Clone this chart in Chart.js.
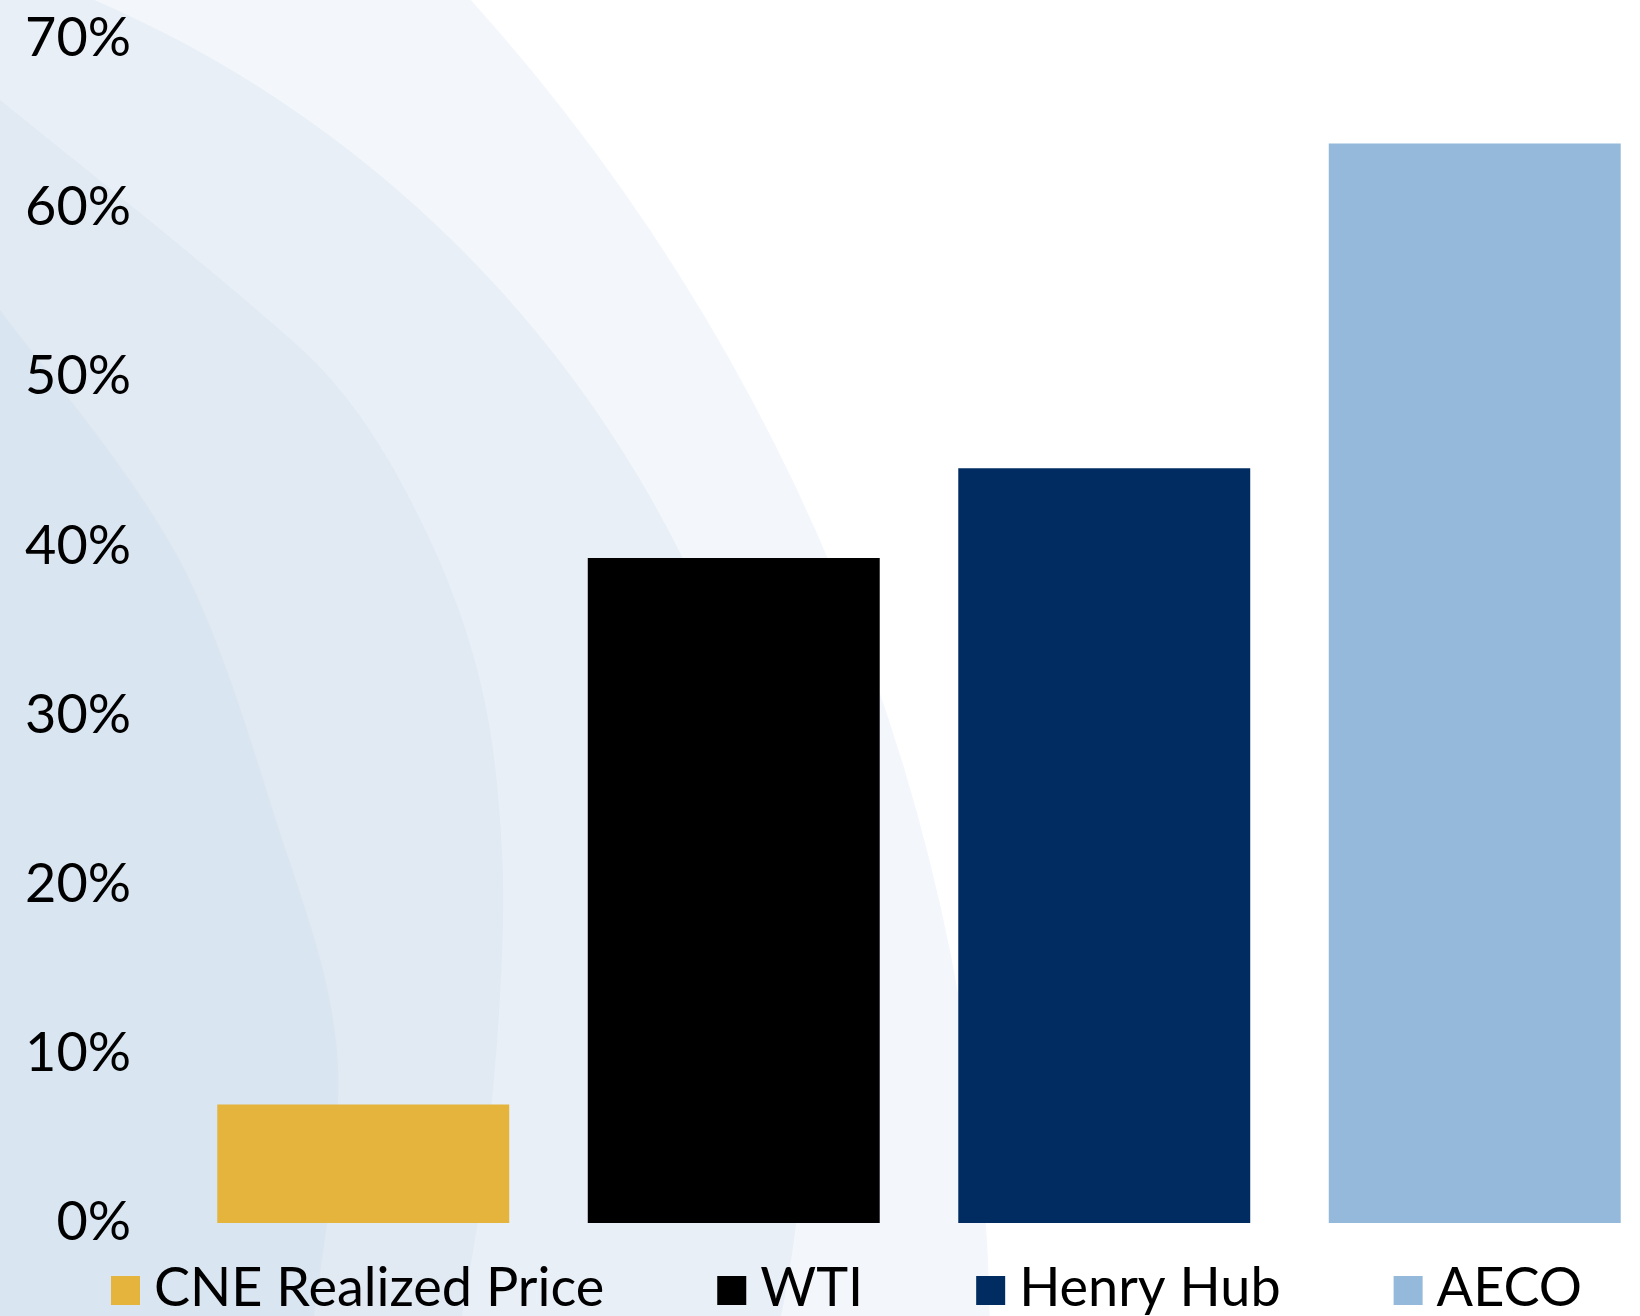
<!DOCTYPE html>
<html>
<head>
<meta charset="utf-8">
<script src="https://cdn.jsdelivr.net/npm/chart.js@4.4.1/dist/chart.umd.min.js"></script>
<style>
  html, body { margin: 0; padding: 0; overflow: hidden; background: #ffffff; }
  #wrap { position: absolute; left: 0; top: 0; width: 1660px; height: 1316px; }
</style>
</head>
<body>
<div id="wrap"><canvas id="chart" width="1660" height="1316"></canvas></div>
<script>
// Year-over-year price change by benchmark (%)
const categories = ['CNE Realized Price', 'WTI', 'Henry Hub', 'AECO'];
const changePct = [7.0, 39.3, 44.6, 63.8];
const barColors = ['#e4b43c', '#000000', '#002c62', '#94b9da'];
const yTickValues = [0, 10, 20, 30, 40, 50, 60, 70];

// Smooth curve through a list of points (Catmull-Rom converted to Bezier)
function curveThrough(ctx, pts) {
  ctx.lineTo(pts[0][0], pts[0][1]);
  for (let i = 0; i < pts.length - 1; i++) {
    const p0 = pts[i - 1] || pts[i];
    const p1 = pts[i];
    const p2 = pts[i + 1];
    const p3 = pts[i + 2] || p2;
    ctx.bezierCurveTo(
      p1[0] + (p2[0] - p0[0]) / 6, p1[1] + (p2[1] - p0[1]) / 6,
      p2[0] - (p3[0] - p1[0]) / 6, p2[1] - (p3[1] - p1[1]) / 6,
      p2[0], p2[1]
    );
  }
}

// Soft decorative swoosh bands behind the plot
const backdrop = {
  id: 'backdrop',
  beforeDraw(chart) {
    const ctx = chart.ctx;
    const w = chart.width, h = chart.height;
    ctx.save();
    ctx.fillStyle = '#ffffff';
    ctx.fillRect(0, 0, w, h);

    ctx.fillStyle = '#f3f7fb';
    ctx.beginPath();
    ctx.arc(-1025, 1350, 2015, 0, Math.PI * 2);
    ctx.fill();

    ctx.fillStyle = '#e9eff7';
    ctx.beginPath();
    ctx.arc(-371, 1080, 1176, 0, Math.PI * 2);
    ctx.fill();

    ctx.fillStyle = '#e1e9f3';
    ctx.beginPath();
    ctx.moveTo(0, 100);
    curveThrough(ctx, [[0, 100], [237, 293], [348, 400], [430, 540], [482, 689], [502, 851], [499, 1013], [482, 1190], [462, 1316]]);
    ctx.lineTo(0, h);
    ctx.closePath();
    ctx.fill();

    ctx.fillStyle = '#d9e5f0';
    ctx.beginPath();
    ctx.moveTo(0, 310);
    curveThrough(ctx, [[0, 310], [179, 559], [286, 851], [332, 1013], [336, 1142], [314, 1316]]);
    ctx.lineTo(0, h);
    ctx.closePath();
    ctx.fill();
    ctx.restore();
  }
};

// Legend row drawn under the plot: colour square followed by label
const legendRow = {
  id: 'legendRow',
  afterDraw(chart, args, opts) {
    const ctx = chart.ctx;
    const labels = chart.data.labels;
    const colors = chart.data.datasets[0].backgroundColor;
    ctx.save();
    ctx.font = opts.font;
    ctx.textBaseline = 'alphabetic';
    ctx.textAlign = 'left';
    let x = opts.left;
    labels.forEach((name, i) => {
      ctx.fillStyle = colors[i];
      ctx.fillRect(x, opts.boxTop, opts.box, opts.box);
      ctx.fillStyle = opts.color;
      const tx = x + opts.box + opts.gap;
      ctx.fillText(name, tx, opts.baseline);
      x = tx + ctx.measureText(name).width + opts.spacing;
    });
    ctx.restore();
  }
};

new Chart(document.getElementById('chart'), {
  type: 'bar',
  data: {
    labels: categories,
    datasets: [{
      data: changePct,
      backgroundColor: barColors,
      borderWidth: 0,
      categoryPercentage: 1,
      barPercentage: 0.788
    }]
  },
  options: {
    responsive: false,
    animation: false,
    layout: { padding: { left: 0, right: 0, top: 38.5, bottom: 93 } },
    plugins: {
      legend: { display: false },
      tooltip: { enabled: false },
      legendRow: {
        font: '54px Lato',
        color: '#000000',
        left: 111,
        box: 29,
        boxTop: 1276,
        gap: 14,
        baseline: 1306,
        spacing: 113
      }
    },
    scales: {
      x: { display: false },
      y: {
        min: yTickValues[0],
        max: yTickValues[yTickValues.length - 1],
        afterBuildTicks(scale) {
          scale.ticks = yTickValues.map(v => ({ value: v }));
        },
        afterFit(scale) {
          scale.width = 178;
          scale.paddingTop = 0;
          scale.paddingBottom = 0;
        },
        grid: { display: false, drawTicks: false },
        border: { display: false },
        ticks: {
          padding: 47,
          color: '#000000',
          font: { family: 'Lato', size: 54 },
          callback: v => v + '%'
        }
      }
    }
  },
  plugins: [backdrop, legendRow]
});
</script>
</body>
</html>
